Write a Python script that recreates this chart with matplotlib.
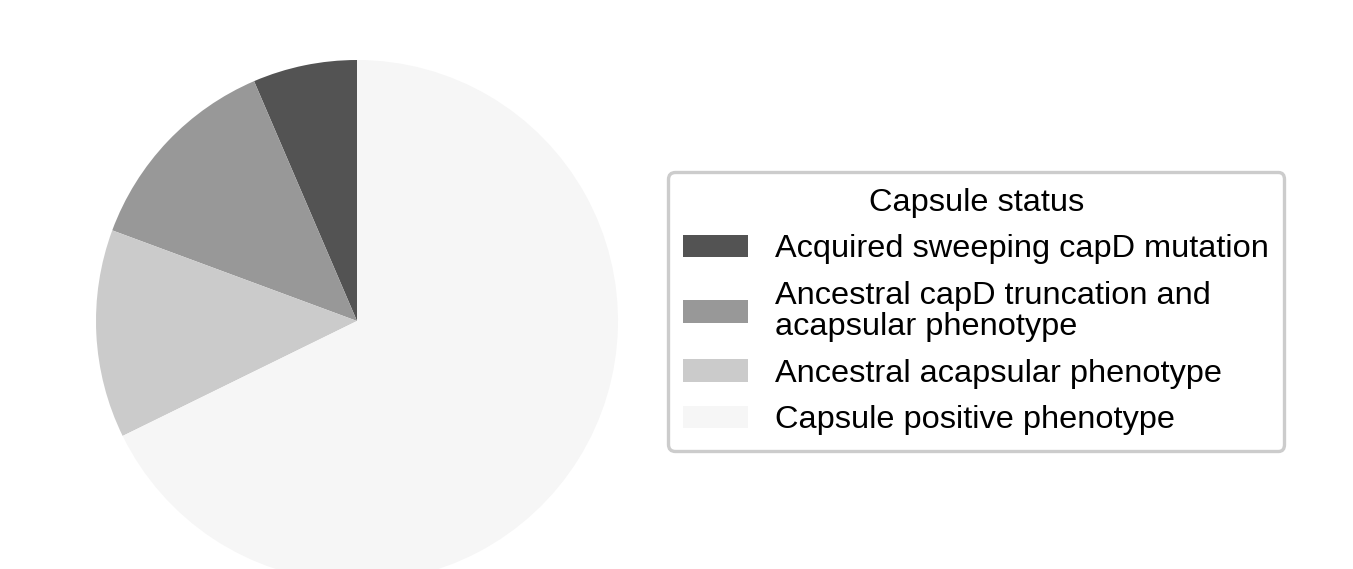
import matplotlib.pyplot as plt

# capsule status counts
labels = ['Acquired sweeping capD mutation',
          'Ancestral capD truncation and\nacapsular phenotype',
          'Ancestral acapsular phenotype',
          'Capsule positive phenotype']
counts = [2, 4, 4, 21]
colors = ['#535353', '#989898', '#cbcbcb', '#f6f6f6']

plt.rcParams['font.family'] = ['Liberation Sans', 'DejaVu Sans']

W, H = 1353, 569
fig = plt.figure(figsize=(W / 100, H / 100), dpi=100)

# pie is centred at about (357, 321) px from top, radius ~261 px; bottom is cut off
cx, cy, r = 357, 321, 261
ax = fig.add_axes([(cx - r) / W, (H - cy - r) / H, 2 * r / W, 2 * r / H])
wedges, _ = ax.pie(counts, colors=colors, startangle=90, counterclock=True,
                   radius=1, frame=False)
ax.set_xlim(-1, 1)
ax.set_ylim(-1, 1)
ax.set_aspect('equal')
ax.axis('off')

leg = fig.legend(wedges, labels, title='Capsule status',
                 loc='center left', bbox_to_anchor=(668 / W, (H - 311.5) / H),
                 borderaxespad=0, fontsize=23.4, title_fontsize=23.4,
                 handlelength=2.0, handleheight=0.68, handletextpad=0.83,
                 labelspacing=0.51, borderpad=0.47, fancybox=True,
                 framealpha=1, edgecolor='#cccccc')
leg.get_frame().set_linewidth(2.4)
for h in leg.legend_handles:
    h.set_edgecolor('none')
for t in leg.get_texts():
    t.set_linespacing(1.07)

fig.savefig('out.png', dpi=100)
